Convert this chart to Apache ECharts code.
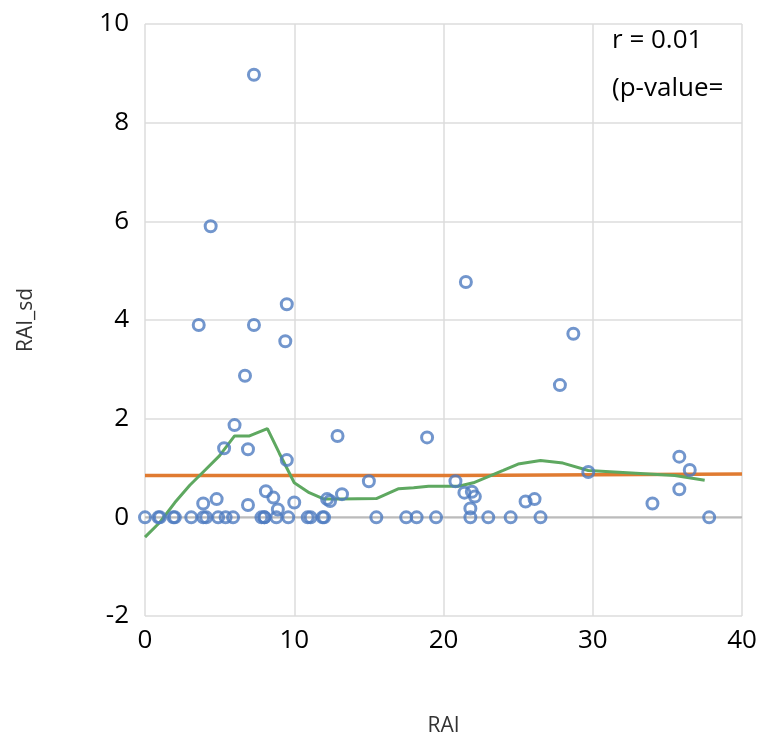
<!DOCTYPE html><html><head><meta charset="utf-8"><script src="https://cdn.jsdelivr.net/npm/echarts@6/dist/echarts.min.js"></script></head><body style="margin:0"><div id="c" style="width:768px;height:749px"></div><script>
const xs=[0,0.9,1.9,3.1,3.9,4.1,4.9,5.4,5.9,7.8,8.0,8.8,9.6,10.9,11.1,11.9,15.5,17.5,18.2,19.5,21.8,23,24.5,26.5,37.8,
3.9,4.8,6.9,8.1,8.6,8.9,10,12.2,12.4,13.2,15,12.9,18.9,6,5.3,6.9,9.5,
7.3,4.4,3.6,7.3,9.5,9.4,6.7,21.5,28.7,27.8,
20.8,21.4,21.9,22.1,21.8,25.5,26.1,29.7,34,35.8,35.8,36.5,1,2,12,8];
const ys=[0,0,0,0,0,0,0,0,0,0,0,0,0,0,0,0,0,0,0,0,0,0,0,0,0,
0.28,0.37,0.25,0.53,0.4,0.16,0.3,0.37,0.33,0.47,0.73,1.65,1.62,1.87,1.4,1.38,1.16,
8.97,5.9,3.9,3.9,4.32,3.57,2.87,4.77,3.72,2.68,
0.73,0.5,0.52,0.42,0.18,0.32,0.37,0.92,0.28,1.23,0.57,0.96,0,0,0,0];
const fitX=[0,20.6,20.6,40], fitY=[0.85,0.85,0.88,0.88];
const maX=[0,1,2,3,4,5,6,7,8.2,9,10,11,12,13,15.5,17,18,19,20,21,22,24,25,26.5,28,29.7,35.5,37.5];
const maY=[-0.4,-0.1,0.3,0.65,0.95,1.25,1.65,1.65,1.8,1.3,0.7,0.5,0.37,0.37,0.38,0.58,0.6,0.63,0.63,0.63,0.7,0.95,1.08,1.15,1.1,0.95,0.85,0.75];
const z=(a,b)=>a.map((v,i)=>[v,b[i]]);
const ch=echarts.init(document.getElementById('c'));
const ax={color:'#000',fontSize:26,fontFamily:'Open Sans'};
ch.setOption({animation:false,
grid:{left:145,right:26,top:24,bottom:133},
xAxis:{type:'value',min:0,max:40,interval:10,name:'RAI',nameLocation:'middle',nameGap:100,nameTextStyle:{fontSize:21,color:'#333',fontFamily:'Open Sans'},
axisLine:{show:false},axisTick:{show:false},axisLabel:{...ax,margin:12},splitLine:{lineStyle:{color:'#ddd',width:1.5}}},
yAxis:{type:'value',min:-2,max:10,interval:2,name:'RAI_sd',nameLocation:'middle',nameGap:108,nameTextStyle:{fontSize:21,color:'#333',fontFamily:'Open Sans'},
axisLine:{show:false},axisTick:{show:false},axisLabel:{...ax,margin:16},splitLine:{lineStyle:{color:'#ddd',width:1.5}}},
series:[
{type:'line',data:[[0,0],[40,0]],symbol:'none',lineStyle:{color:'#bbb',width:2},silent:true,z:1},
{type:'line',data:z(fitX,fitY),symbol:'none',lineStyle:{color:'#e07b31',width:3.5},z:2},
{type:'line',data:z(maX,maY),symbol:'none',lineStyle:{color:'#5ea860',width:3},z:3},
{type:'scatter',data:z(xs,ys),symbol:'circle',symbolSize:11,itemStyle:{color:'rgba(0,0,0,0)',borderColor:'#4f7cc0',borderWidth:3},z:4}],
graphic:[{type:'text',left:612,top:28,style:{text:'r = 0.01',fontSize:26,fontFamily:'Open Sans',fill:'#000'}},
{type:'text',left:612,top:76,style:{text:'(p-value=',fontSize:26,fontFamily:'Open Sans',fill:'#000'}}]});
</script></body></html>
